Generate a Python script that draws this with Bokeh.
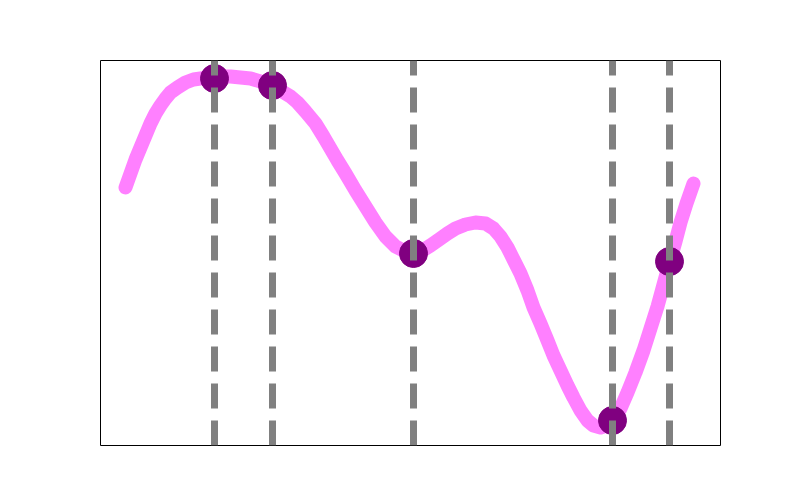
from bokeh.plotting import figure
from bokeh.models import Range1d
from bokeh.embed import file_html
from bokeh.resources import INLINE

# smooth curve samples
curve_x = [25, 30, 35, 40, 45, 50, 55, 60, 65, 70,
           77, 85, 93, 100, 107, 114, 122, 130, 140, 150,
           160, 170, 180, 190, 197, 205, 215, 223, 230, 237,
           245, 255, 265, 275, 285, 295, 305, 313, 322, 330,
           340, 347, 355, 365, 375, 385, 393, 400, 407, 413,
           420, 427, 433, 440, 447, 453, 460, 467, 473, 480,
           487, 493, 500, 506, 512, 520, 527, 535, 543, 550,
           557, 563, 569, 575, 580, 586, 593]
curve_y = [258, 272, 286, 298, 310, 322, 332, 340, 347, 353,
           358, 363, 366, 367, 368, 368, 369, 369, 368, 367,
           364, 360, 355, 349, 343, 334, 322, 309, 297, 285,
           272, 255, 239, 223, 209, 199, 194, 192, 195, 200,
           207, 212, 217, 221, 223, 222, 217, 209, 198, 186,
           172, 155, 138, 122, 105, 90, 75, 60, 48, 35,
           25, 20, 18, 20, 25, 37, 53, 73, 95, 117,
           139, 161, 183, 204, 223, 242, 262]

# highlighted points
pt_x = [114, 172, 313, 512, 569]
pt_y = [367, 360, 192, 25, 184]

p = figure(width=784, height=484, output_backend="svg", toolbar_location=None,
           x_range=Range1d(0, 620), y_range=Range1d(0, 385),
           min_border_left=100, min_border_right=64, min_border_top=60, min_border_bottom=39)
p.xaxis.visible = False
p.yaxis.visible = False
p.xgrid.visible = False
p.ygrid.visible = False
p.outline_line_color = "black"
p.outline_line_width = 1
p.outline_line_alpha = 1
p.background_fill_color = "white"
p.border_fill_color = "white"

p.line(curve_x, curve_y, line_color="#ff80ff", line_width=14, line_cap="round", line_join="round")
p.scatter(pt_x, pt_y, size=28, fill_color="#800080", line_color="#800080")
p.segment(x0=pt_x, y0=[0] * len(pt_x), x1=pt_x, y1=[385] * len(pt_x),
          line_color="#808080", line_width=7, line_dash="25 12")

open("out.html", "w").write(file_html(p, INLINE))
